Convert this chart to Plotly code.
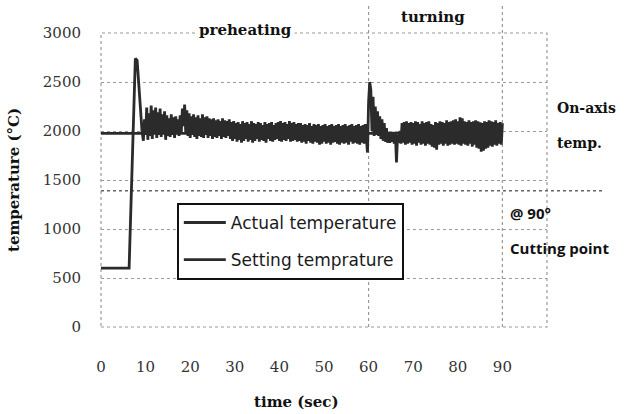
import plotly.graph_objects as go

# ---------------- data ----------------
rise_t = [0, 6.3, 7.7, 8.1, 9.2]
rise_v = [600, 600, 2740, 2720, 2000]

noise_start = 9.5
noise_step = 0.25
noise_v = [
    1900, 2120, 1960, 2240, 1910, 2180, 1950, 2260, 1920, 2210, 1970, 2240, 1930, 2190, 1960, 2230, 1940, 2170, 1980, 2200,  # 9.5-
    1910, 2160, 1950, 2130, 1940, 2170, 1960, 2140, 1930, 2150, 1970, 2120, 1950, 2160, 1990, 2230, 2050, 2270, 1980, 2210,  # 14.5-
    1950, 2180, 1930, 2150, 1960, 2170, 1940, 2140, 1920, 2160, 1950, 2130, 1940, 2170, 1930, 2140, 1960, 2150, 1930, 2130,  # 19.5-
    1950, 2120, 1920, 2130, 1940, 2110, 1930, 2120, 1950, 2100, 1920, 2130, 1940, 2110, 1930, 2100, 1950, 2120, 1920, 2090,  # 24.5-
    1900, 2100, 1920, 2080, 1890, 2090, 1910, 2070, 1880, 2100, 1900, 2080, 1920, 2090, 1890, 2070, 1910, 2100, 1880, 2080,  # 29.5-
    1900, 2070, 1920, 2090, 1890, 2080, 1910, 2060, 1900, 2090, 1880, 2070, 1920, 2080, 1900, 2090, 1890, 2060, 1910, 2080,  # 34.5-
    1920, 2090, 1900, 2100, 1890, 2080, 1910, 2090, 1900, 2070, 1920, 2100, 1890, 2080, 1900, 2090, 1910, 2070, 1890, 2080,  # 39.5-
    1900, 2080, 1880, 2060, 1890, 2070, 1870, 2060, 1900, 2080, 1880, 2050, 1870, 2070, 1890, 2060, 1880, 2070, 1860, 2050,  # 44.5-
    1870, 2060, 1890, 2070, 1870, 2050, 1880, 2060, 1860, 2070, 1880, 2050, 1890, 2060, 1870, 2070, 1860, 2050, 1880, 2060,  # 49.5-
    1870, 2070, 1880, 2050, 1860, 2060, 1890, 2070, 1870, 2050, 1880, 2060, 1870, 2070, 1860, 2050, 1880, 2060, 1870, 2070,  # 54.5-
    1900, 1780, 2300, 2500, 2420, 2000, 2350, 1950, 2250, 1960, 2200, 1950, 2150, 1920, 2120, 1900, 2080, 1890, 2030, 1880,  # 59.5-
    1990, 1880, 1980, 1890, 1990, 1870, 1980, 1680, 1960, 1880, 2000, 1870, 2080, 1880, 2090, 1860, 2100, 1870, 2080, 1880,  # 64.5-
    2090, 1860, 2080, 1870, 2100, 1850, 2090, 1880, 2070, 1860, 2100, 1870, 2080, 1850, 2090, 1870, 2100, 1860, 2070, 1840,  # 69.5-
    2060, 1830, 2090, 1810, 2080, 1860, 2100, 1870, 2090, 1850, 2080, 1870, 2110, 1850, 2090, 1860, 2100, 1870, 2110, 1860,  # 74.5-
    2120, 1870, 2100, 1860, 2140, 1850, 2130, 1870, 2100, 1860, 2090, 1850, 2110, 1870, 2090, 1840, 2100, 1860, 2110, 1830,  # 79.5-
    2100, 1820, 2090, 1790, 2080, 1800, 2100, 1820, 2090, 1830, 2110, 1850, 2100, 1840, 2090, 1860, 2110, 1850, 2080, 1870,  # 84.5-
    2090, 1860, 2080,                                                                                                      # 89.5-90
]
noise_t = [noise_start + i * noise_step for i in range(len(noise_v))]

actual_t = rise_t + noise_t
actual_v = rise_v + noise_v

setting_t = [0, 90]
setting_v = [1975, 1975]

phase_bounds = [60, 90]
cutting_level = 1390

x_ticks = [0, 10, 20, 30, 40, 50, 60, 70, 80, 90]
y_ticks = [0, 500, 1000, 1500, 2000, 2500, 3000]

# ---------------- figure ----------------
fig = go.Figure()

fig.add_trace(go.Scatter(
    x=setting_t, y=setting_v, mode="lines", name="Setting temprature",
    legendgroup="b", legendrank=2, line=dict(color="#2b2b2b", width=2.8),
))
fig.add_trace(go.Scatter(
    x=actual_t, y=actual_v, mode="lines", name="Actual temperature",
    legendgroup="a", legendrank=1, line=dict(color="#2b2b2b", width=2.8),
))

grid = "#9a9a9a"
shapes = []
# frame
shapes.append(dict(type="rect", xref="paper", yref="paper", x0=0, x1=1, y0=0, y1=1,
                   line=dict(color=grid, width=1.2, dash="dot"), layer="below"))
# phase boundaries
for b in phase_bounds:
    shapes.append(dict(type="line", xref="x", yref="paper", x0=b, x1=b, y0=0, y1=1.095,
                       line=dict(color=grid, width=1.2, dash="dot"), layer="below"))
# cutting point line
shapes.append(dict(type="line", xref="paper", yref="y", x0=0, x1=1.126,
                   y0=cutting_level, y1=cutting_level,
                   line=dict(color="#666", width=1.5, dash="dot"), layer="below"))

serif_b = dict(family="DejaVu Serif", size=15, color="#111", weight="bold")
ann = []
ann.append(dict(text="preheating", xref="paper", yref="paper", x=0.323, y=1.01,
                showarrow=False, xanchor="center", yanchor="middle",
                font=serif_b, bgcolor="white", borderpad=2))
ann.append(dict(text="turning", xref="paper", yref="paper", x=0.744, y=1.054,
                showarrow=False, xanchor="center", yanchor="middle", font=serif_b))
ann.append(dict(text="On-axis", xref="paper", yref="paper", x=1.018, y=0.745,
                showarrow=False, xanchor="left", yanchor="middle",
                font=dict(family="DejaVu Serif", size=14, color="#111", weight="bold")))
ann.append(dict(text="temp.", xref="paper", yref="paper", x=1.018, y=0.626,
                showarrow=False, xanchor="left", yanchor="middle",
                font=dict(family="DejaVu Serif", size=14, color="#111", weight="bold")))
ann.append(dict(text="@ 90°", xref="paper", yref="paper", x=0.913, y=0.388,
                showarrow=False, xanchor="left", yanchor="middle",
                font=dict(family="Open Sans", size=15, color="#111", weight="bold")))
ann.append(dict(text="Cutting point", xref="paper", yref="paper", x=0.913, y=0.269,
                showarrow=False, xanchor="left", yanchor="middle",
                font=dict(family="Open Sans", size=15, color="#111", weight="bold")))
ann.append(dict(text="time (sec)", xref="paper", yref="paper", x=0.439, y=-0.255,
                showarrow=False, xanchor="center", yanchor="middle", font=serif_b))
ann.append(dict(text="temperature (°C)", xref="paper", yref="paper", x=-0.195, y=0.50,
                showarrow=False, xanchor="center", yanchor="middle", textangle=-90,
                font=serif_b))
fig.update_layout(
    width=635, height=414,
    margin=dict(l=101, r=88, t=33, b=87),
    paper_bgcolor="white", plot_bgcolor="white",
    shapes=shapes, annotations=ann,
    showlegend=True,
    legend=dict(
        x=0.170, y=0.422, xanchor="left", yanchor="top",
        bgcolor="white", bordercolor="#111", borderwidth=2,
        font=dict(family="DejaVu Sans", size=17, color="#1a1a1a"),
        traceorder="grouped", tracegroupgap=12, itemwidth=42,
    ),
    xaxis=dict(
        range=[0, 100], tickvals=x_ticks, ticktext=[str(v) for v in x_ticks],
        showgrid=False, zeroline=False, showline=False,
        ticks="outside", ticklen=26, tickcolor="rgba(0,0,0,0)",
        tickfont=dict(family="DejaVu Serif", size=15, color="#333"),
    ),
    yaxis=dict(
        range=[0, 3000], tickvals=y_ticks, ticktext=[str(v) for v in y_ticks],
        showgrid=True, gridcolor=grid, griddash="dot", gridwidth=1.2,
        zeroline=False, showline=False,
        ticks="outside", ticklen=16, tickcolor="rgba(0,0,0,0)",
        tickfont=dict(family="DejaVu Serif", size=15, color="#333"),
    ),
)

fig.write_html("out.html")
